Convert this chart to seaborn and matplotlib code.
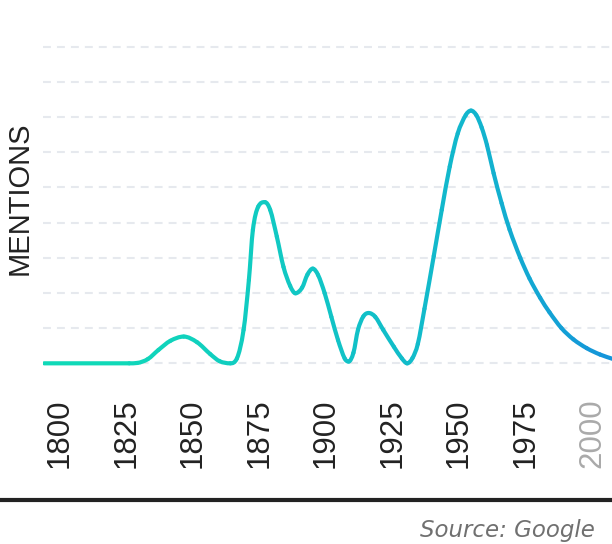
import numpy as np
import matplotlib
matplotlib.use("Agg")
import matplotlib.pyplot as plt
from matplotlib.colors import LinearSegmentedColormap
from matplotlib.lines import Line2D
from matplotlib.path import Path
from matplotlib.patches import PathPatch
import seaborn as sns

# values (year, mentions in gridline units)
years = [1794, 1826, 1829, 1833, 1837, 1841.5, 1846.5, 1851.5, 1856.5, 1860,
         1864, 1866.5, 1869, 1871, 1872.5, 1874.5, 1877, 1879, 1881.5, 1884,
         1886.5, 1888.5, 1891, 1893, 1895, 1897, 1899.5, 1902, 1904.5, 1907,
         1908.5, 1910.3, 1912, 1914, 1916, 1918.5, 1921.5, 1925.5, 1928.5, 1930.5,
         1932.5, 1934.5, 1937, 1940.5, 1943.5, 1946.5, 1949.5, 1952.5, 1954.5, 1956.5,
         1958.5, 1960.5, 1963, 1966, 1969, 1973, 1976.5, 1980.5, 1984, 1988.5,
         1993, 1998, 2003, 2008]
mentions = [0, 0, 0.01, 0.12, 0.38, 0.64, 0.76, 0.6, 0.26, 0.06,
            0, 0.14, 0.95, 2.37, 3.79, 4.45, 4.58, 4.36, 3.6, 2.74,
            2.2, 1.99, 2.15, 2.52, 2.69, 2.51, 1.99, 1.32, 0.66, 0.14,
            0.05, 0.3, 0.95, 1.33, 1.43, 1.32, 0.95, 0.47, 0.14, 0.0,
            0.15, 0.55, 1.55, 3.05, 4.36, 5.59, 6.53, 7.05, 7.18, 7.05,
            6.7, 6.2, 5.4, 4.55, 3.8, 3.0, 2.41, 1.86, 1.45, 1.0,
            0.68, 0.43, 0.25, 0.12]

tick_years = [1800, 1825, 1850, 1875, 1900, 1925, 1950, 1975, 2000]
grid_levels = list(range(10))


def smooth_tangents(x, y):
    # catmull-rom style slopes, flat at turning points, capped so the
    # curve never overshoots between two readings
    s = np.diff(y) / np.diff(x)
    t = np.zeros_like(y)
    t[0], t[-1] = s[0], s[-1]
    for i in range(1, len(y) - 1):
        if s[i - 1] * s[i] > 0:
            c = (y[i + 1] - y[i - 1]) / (x[i + 1] - x[i - 1])
            t[i] = np.sign(c) * min(abs(c), 3 * abs(s[i - 1]), 3 * abs(s[i]))
    return t


sns.set_style("white")
plt.rcParams['font.family'] = ['Liberation Sans', 'DejaVu Sans']

fig = plt.figure(figsize=(6.12, 5.44), dpi=100)
ax = fig.add_axes([43 / 612, 164 / 544, 569 / 612, 350 / 544])

sns.lineplot(x=years, y=mentions, ax=ax, color="#10c0c8")

# redraw the seaborn line as a smooth curve with a left-to-right gradient
line = ax.get_lines()[0]
xy = line.get_xydata()
line.remove()
xs, ys = xy[:, 0], xy[:, 1]
tg = smooth_tangents(xs, ys)
cmap = LinearSegmentedColormap.from_list(
    "grad", ["#10dcb6", "#10d2bd", "#11c4c6", "#12b6cd", "#1494da"])
norm = plt.Normalize(1794, 2008)
for i in range(len(xs) - 1):
    d = (xs[i + 1] - xs[i]) / 3
    verts = [(xs[i], ys[i]),
             (xs[i] + d, ys[i] + d * tg[i]),
             (xs[i + 1] - d, ys[i + 1] - d * tg[i + 1]),
             (xs[i + 1], ys[i + 1])]
    path = Path(verts, [Path.MOVETO, Path.CURVE4, Path.CURVE4, Path.CURVE4])
    ax.add_patch(PathPatch(path, fill=False, lw=3,
                           edgecolor=cmap(norm((xs[i] + xs[i + 1]) / 2)),
                           capstyle="round", joinstyle="round", zorder=3))

ax.set_xlim(1793.6, 2007.5)
ax.set_ylim(-0.474, 9.47)
ax.set_yticks(grid_levels)
ax.set_yticklabels([])
ax.yaxis.grid(True, color="#e6e9ee", lw=1.5, ls=(0, (3.8, 2.9)))
ax.xaxis.grid(False)
ax.set_axisbelow(True)

ax.set_xticks(tick_years)
ax.set_xticklabels([str(y) for y in tick_years], rotation=90, fontsize=22.5,
                   color="#222222")
ax.get_xticklabels()[-1].set_color("#aaaaaa")
ax.tick_params(axis="x", length=0, pad=13)
ax.tick_params(axis="y", length=0)
sns.despine(ax=ax, left=True, bottom=True)

fig.text(20 / 612, 1 - 198.5 / 544, "MENTIONS", rotation=90, ha="center",
         va="center", fontsize=21, color="#222222")

fig.add_artist(Line2D([0, 1], [1 - 500 / 544] * 2, transform=fig.transFigure,
                      color="#222222", lw=3))
fig.text(595 / 612, 1 - 531 / 544, "Source: Google", ha="right", va="center",
         fontsize=16.5, style="italic", color="#707070", family="DejaVu Sans")

fig.savefig("out.png", dpi=100)
